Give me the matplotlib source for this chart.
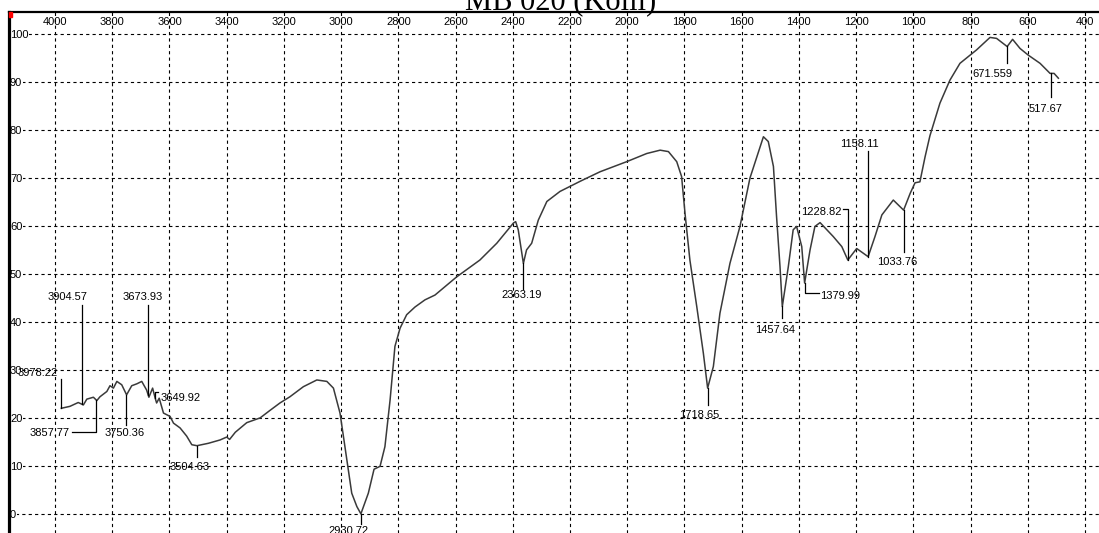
import numpy as np
import matplotlib
matplotlib.use('Agg')
import matplotlib.pyplot as plt
from matplotlib.patches import Rectangle

# spectrum (wavenumber cm-1, %T)
wavenumber = [3978, 3948, 3919, 3901, 3889, 3866, 3854, 3843, 3819, 3808, 3796, 3784,
              3767, 3750, 3732, 3714, 3697, 3680, 3672, 3659, 3650, 3645, 3636, 3621,
              3598, 3586, 3563, 3540, 3522, 3504, 3464, 3423, 3400, 3390, 3370, 3330,
              3283, 3250, 3214, 3179, 3132, 3085, 3050, 3027, 3004, 2980, 2963, 2945,
              2931, 2905, 2885, 2864, 2847, 2829, 2812, 2794, 2771, 2742, 2707, 2672,
              2596, 2515, 2456, 2398, 2390, 2381, 2363, 2352, 2334, 2311, 2281, 2235,
              2165, 2095, 2002, 1932, 1885, 1856, 1827, 1810, 1798, 1781, 1757, 1734,
              1719, 1699, 1676, 1641, 1606, 1571, 1547, 1524, 1507, 1489, 1478, 1466,
              1458, 1437, 1420, 1408, 1390, 1380, 1361, 1344, 1326, 1280, 1250, 1229,
              1198, 1158, 1134, 1110, 1070, 1034, 1011, 994, 977, 959, 942, 907,
              872, 837, 802, 779, 732, 709, 672, 653, 627, 598, 557, 522,
              508, 493]
transmittance = [22.0, 22.4, 23.2, 22.7, 23.9, 24.3, 23.6, 24.4, 25.5, 26.7, 26.2, 27.6,
                 26.9, 24.8, 26.7, 27.1, 27.6, 25.8, 24.3, 26.2, 24.1, 23.1, 24.1, 21.0,
                 20.3, 18.9, 17.9, 16.2, 14.4, 14.2, 14.7, 15.4, 16.0, 15.5, 17.0, 19.0,
                 20.0, 21.5, 23.1, 24.4, 26.5, 27.9, 27.6, 26.2, 21.0, 11.3, 4.3, 1.5,
                 0.0, 4.3, 9.3, 9.9, 14.0, 23.7, 34.9, 38.7, 41.5, 43.1, 44.6, 45.6,
                 49.4, 52.9, 56.4, 60.6, 60.9, 59.2, 52.2, 55.0, 56.4, 61.2, 65.1, 67.2,
                 69.3, 71.3, 73.4, 75.1, 75.8, 75.5, 73.4, 70.3, 62.6, 52.9, 43.2, 33.5,
                 26.2, 30.7, 41.8, 52.2, 59.9, 70.0, 74.4, 78.6, 77.6, 72.4, 61.9, 51.5,
                 43.2, 51.5, 59.2, 59.9, 55.7, 48.1, 55.0, 59.9, 60.7, 57.8, 55.7, 52.9,
                 55.3, 53.6, 57.8, 62.3, 65.4, 63.3, 66.8, 69.0, 69.2, 74.4, 78.8, 85.6,
                 90.4, 93.9, 95.6, 96.7, 99.3, 99.1, 97.4, 98.9, 97.0, 95.6, 93.9, 91.8,
                 91.8, 90.8]

peak_labels = ['3978.22', '3904.57', '3857.77', '3750.36', '3673.93', '3649.92',
               '3504.63', '2930.72', '2363.19', '1718.65', '1457.64', '1379.99',
               '1228.82', '1158.11', '1033.76', '671.559', '517.67']

x_ticks = list(range(4000, 399, -200))
y_ticks = list(range(0, 101, 10))
title = 'MB 020 (Kolli)'

plt.rcParams['lines.scale_dashes'] = False
FONT = 'Liberation Sans'

W, H = 1099, 533
fig = plt.figure(figsize=(W / 100, H / 100), dpi=100)
left_px, top_px = 9, 12
ax = fig.add_axes([left_px / W, 0, 1 - left_px / W, (H - top_px) / H])
x0, x1 = 4161, 351
y0, y1 = -4.0, 104.6
ax.set_xlim(x0, x1)
ax.set_ylim(y0, y1)
ax.set_xticks([])
ax.set_yticks([])
# data units per pixel
px_x = (x0 - x1) / (W - left_px)
px_y = (y1 - y0) / (H - top_px)

for s in ['right', 'bottom']:
    ax.spines[s].set_visible(False)
ax.spines['left'].set_linewidth(2.3)
ax.spines['top'].set_linewidth(1.6)

grid_kw = dict(color='black', lw=0.8, dashes=(2.3, 2.3), zorder=1)
for w in x_ticks:
    ax.axvline(w, **grid_kw)
    ax.text(w, 101.9, str(w), ha='center', va='baseline', fontsize=8,
            family=FONT, zorder=3)
for t in y_ticks:
    ax.axhline(t, **grid_kw)
    ax.text(x0 - 1 * px_x, t - 4 * px_y, str(t), ha='left', va='baseline',
            fontsize=8, family=FONT, zorder=2,
            bbox=dict(facecolor='white', edgecolor='none', pad=0.3))

ax.plot(wavenumber, transmittance, color='#3a3a3a', lw=1.1, zorder=4)

# leader layout: (line end %T, elbow px, text dx px, text baseline %T, ha)
layout = {
    '3978.22': (28.1, 0, -3, 28.7, 'right'),
    '3904.57': (43.5, 0, -15, 44.6, 'center'),
    '3857.77': (17.1, -24, -26, 16.3, 'right'),
    '3750.36': (18.5, 0, -2, 16.3, 'center'),
    '3673.93': (43.5, 0, -6, 44.6, 'center'),
    '3649.92': (25.4, 3, 5, 23.5, 'left'),
    '3504.63': (11.9, 0, -7, 9.2, 'center'),
    '2930.72': (-2.1, 0, -12, -4.2, 'center'),
    '2363.19': (46.8, 0, -2, 45.0, 'center'),
    '1718.65': (22.7, 0, -9, 20.0, 'center'),
    '1457.64': (40.8, 0, -7, 37.7, 'center'),
    '1379.99': (46.0, 14, 15, 44.8, 'left'),
    '1228.82': (63.6, -5, -6, 62.3, 'right'),
    '1158.11': (75.7, 0, -9, 76.5, 'center'),
    '1033.76': (54.6, 0, -6, 51.9, 'center'),
    '671.559': (94.0, 0, -15, 91.0, 'center'),
    '517.67': (86.9, 0, -6, 83.8, 'center'),
}
wn_asc = np.array(wavenumber[::-1], float)
tr_asc = np.array(transmittance[::-1], float)
for lab in peak_labels:
    w = float(lab)
    yc = np.interp(w, wn_asc, tr_asc)
    y_end, elbow, tdx, ty, ha = layout[lab]
    xs, ys = [w, w], [yc, y_end]
    if elbow:
        xs.append(w - elbow * px_x)
        ys.append(y_end)
    ax.plot(xs, ys, color='black', lw=0.9, zorder=5)
    ax.text(w - tdx * px_x, ty, lab, ha=ha, va='baseline', fontsize=8,
            family=FONT, zorder=6)

fig.text(561 / W, 1 - 9 / H, title, ha='center', va='baseline', fontsize=22,
         family='Liberation Serif')
fig.patches.append(Rectangle((left_px / W, 1 - 17 / H), 3 / W, 5 / H,
                             color='red', transform=fig.transFigure, zorder=10))

fig.savefig('out.png', dpi=100)
